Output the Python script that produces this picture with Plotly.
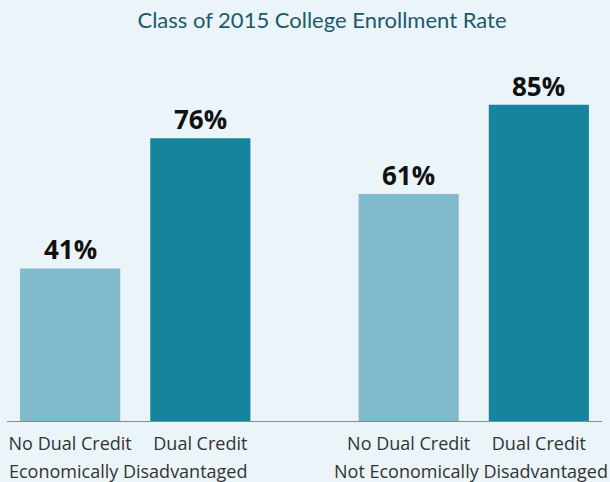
import plotly.graph_objects as go

groups = ["Economically Disadvantaged", "Not Economically Disadvantaged"]
subcats = ["No Dual Credit", "Dual Credit"]
values = [[41, 76], [61, 85]]
colors = ["#80BACB", "#17849D"]

group_gap = 1.6  # spacing between group starts, in bar-slot units
xs, ys, cols, ticks = [], [], [], []
for gi, g in enumerate(groups):
    for si, s in enumerate(subcats):
        xs.append(gi * (1 + group_gap) + si)
        ys.append(values[gi][si])
        cols.append(colors[si])
        ticks.append(s)

fig = go.Figure(go.Bar(
    x=xs, y=ys, width=100 / 130,
    marker=dict(color=cols, line=dict(width=0)),
    hoverinfo="skip",
))

for x, y in zip(xs, ys):
    fig.add_annotation(x=x, y=y, xref="x", yref="y", text=f"{y}%", showarrow=False,
                       yanchor="bottom", yshift=-1,
                       font=dict(family="Open Sans", size=26, color="#111111", weight="bold"))

shifts = [-7, -3]
for gi, g in enumerate(groups):
    cx = gi * (1 + group_gap) + 0.5
    fig.add_annotation(x=cx, xref="x", y=0, yref="paper", text=g, showarrow=False,
                       yanchor="middle", yshift=-50, xshift=shifts[gi],
                       font=dict(family="Open Sans", size=18, color="#333333"))

fig.update_layout(
    width=610, height=482,
    margin=dict(l=7, r=8, t=49, b=61),
    paper_bgcolor="#EAF4F9", plot_bgcolor="#EAF4F9",
    title=dict(text="Class of 2015 College Enrollment Rate", x=322 / 610, xanchor="center",
               y=1 - 20 / 482, yanchor="middle",
               font=dict(family="Lato", size=22, color="#1C5A6E")),
    showlegend=False,
    xaxis=dict(range=[-0.485, xs[-1] + 0.485], tickvals=xs, ticktext=ticks,
               showgrid=False, zeroline=False, showline=True, linecolor="#8A8A8A",
               linewidth=1, ticks="", tickfont=dict(family="Open Sans", size=18, color="#333333"),
               ticklabelstandoff=6),
    yaxis=dict(range=[0, 100], visible=False),
)

fig.write_html("out.html", config={"displayModeBar": False},
               post_script="document.body.style.margin='0';document.body.style.background='#EAF4F9';")
